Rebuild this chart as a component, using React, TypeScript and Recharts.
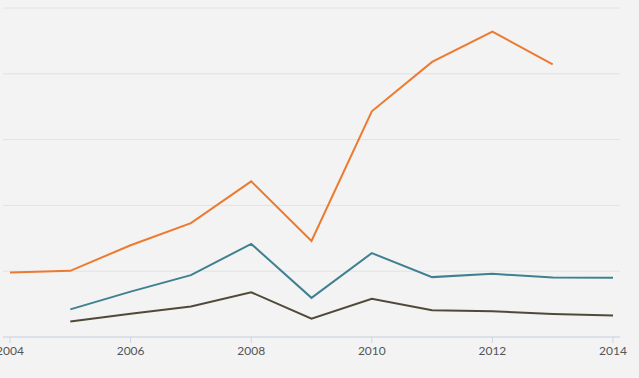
import { LineChart, Line, XAxis, YAxis, CartesianGrid } from "recharts";

const YEARS = [2004, 2005, 2006, 2007, 2008, 2009, 2010, 2011, 2012, 2013, 2014];
const ORANGE = [19.6, 20.1, 27.9, 34.6, 47.3, 29.2, 68.6, 83.6, 92.8, 82.9, null];
const TEAL = [null, 8.4, 13.8, 18.8, 28.3, 11.9, 25.5, 18.2, 19.2, 18.1, 18.0];
const BROWN = [null, 4.7, 7.1, 9.3, 13.6, 5.6, 11.6, 8.1, 7.8, 7.0, 6.5];
const X_TICKS = [2004, 2006, 2008, 2010, 2012, 2014];
const Y_TICKS = [0, 20, 40, 60, 80, 100];

const data = YEARS.map((year, i) => ({
  year,
  orange: ORANGE[i],
  teal: TEAL[i],
  brown: BROWN[i],
}));

export default function App() {
  return (
    <div
      style={{
        position: "absolute",
        left: 0,
        top: 0,
        width: 639,
        height: 378,
        background: "#f3f3f3",
        overflow: "hidden",
      }}
    >
      <LineChart
        width={639}
        height={378}
        data={data}
        margin={{ top: 8, right: 19, left: 3, bottom: 11 }}
      >
        <CartesianGrid vertical={false} stroke="#e2e2e2" />
        <XAxis
          dataKey="year"
          type="number"
          domain={[2004, 2014]}
          ticks={X_TICKS}
          interval={0}
          padding={{ left: 7, right: 7 }}
          height={30}
          stroke="#cdd5e4"
          tickSize={6}
          tick={{ fontSize: 12, fill: "#555", fontFamily: "Lato" }}
          tickMargin={3}
        />
        <YAxis hide domain={[0, 100]} ticks={Y_TICKS} />
        <Line
          dataKey="orange"
          stroke="#ec7a2f"
          strokeWidth={2}
          dot={false}
          isAnimationActive={false}
        />
        <Line
          dataKey="teal"
          stroke="#3f8190"
          strokeWidth={2}
          dot={false}
          isAnimationActive={false}
        />
        <Line
          dataKey="brown"
          stroke="#51483a"
          strokeWidth={2}
          dot={false}
          isAnimationActive={false}
        />
      </LineChart>
    </div>
  );
}
